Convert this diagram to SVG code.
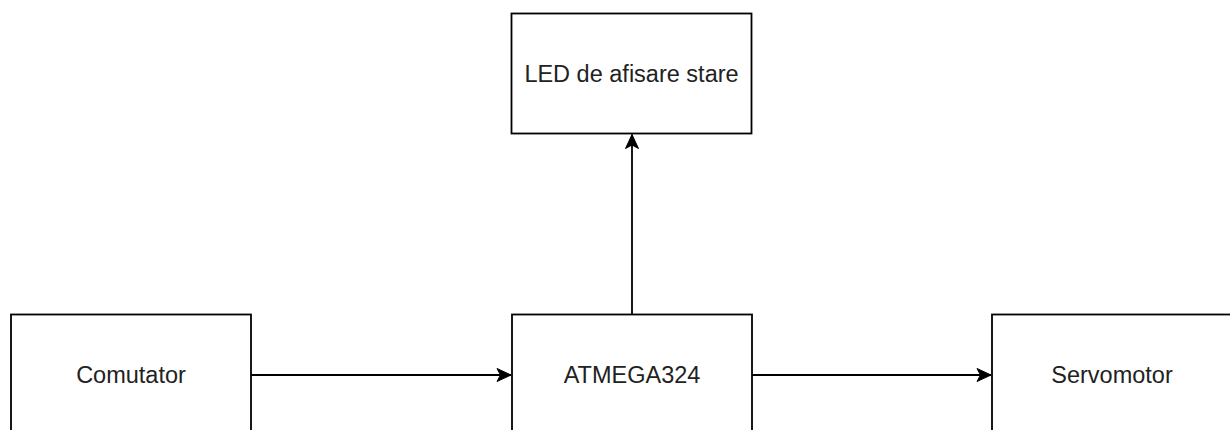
<svg xmlns="http://www.w3.org/2000/svg" width="1230" height="430" viewBox="0 0 1230 430">
<style>
.box{fill:#fff;stroke:#000;stroke-width:1.8}
.lbl{font-family:"Liberation Sans",Arial,sans-serif;font-size:23.5px;fill:#222;text-anchor:middle}
.edge{fill:none;stroke:#000;stroke-width:1.8}
</style>
<defs>
<marker id="arr" markerUnits="userSpaceOnUse" markerWidth="16" markerHeight="14" viewBox="0 0 16 14" refX="15" refY="7" orient="auto">
<path d="M15,7 L1,0.5 L4.5,7 L1,13.5 Z" fill="#000" stroke="#000" stroke-width="1"/>
</marker>
</defs>
<rect width="1230" height="430" fill="#fff"/>
<g id="node-led"><rect class="box" x="511.5" y="13.5" width="240" height="120"/><text class="lbl" x="631.5" y="82">LED de afisare stare</text></g>
<g id="node-comutator"><rect class="box" x="11" y="314.5" width="240" height="120"/><text class="lbl" x="131" y="383">Comutator</text></g>
<g id="node-atmega"><rect class="box" x="512" y="314.5" width="240" height="120"/><text class="lbl" x="632" y="383">ATMEGA324</text></g>
<g id="node-servo"><rect class="box" x="992" y="314.5" width="260" height="120"/><text class="lbl" x="1112" y="383">Servomotor</text></g>
<g id="connectors">
<line class="edge" x1="251" y1="375" x2="511" y2="375" marker-end="url(#arr)"/>
<line class="edge" x1="752" y1="375" x2="991" y2="375" marker-end="url(#arr)"/>
<line class="edge" x1="632" y1="314.5" x2="632" y2="134.5" marker-end="url(#arr)"/>
</g>
</svg>
